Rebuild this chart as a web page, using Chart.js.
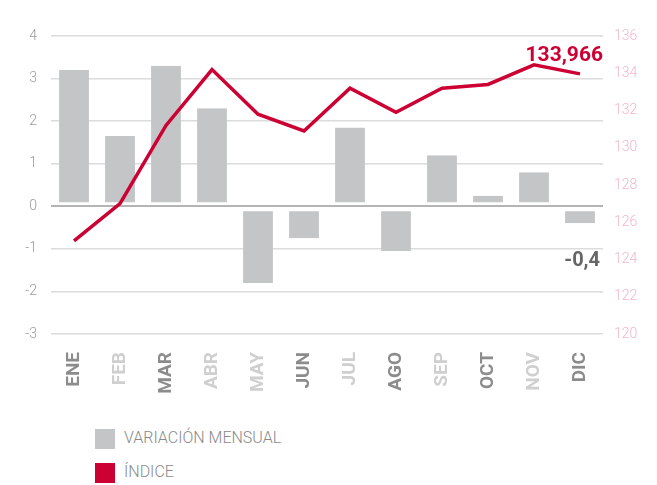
<!DOCTYPE html>
<html>
<head>
<meta charset="utf-8">
<script src="https://cdn.jsdelivr.net/npm/chart.js@4.4.0/dist/chart.umd.min.js"></script>
<style>
body { margin: 0; background: #fff; font-family: Roboto, sans-serif; }
#wrap { position: relative; width: 657px; height: 400px; }
.leg { position: absolute; left: 95px; font-size: 16px; font-weight: 300; color: #8a8a8a; }
.leg span { display: inline-block; width: 20px; height: 20px; vertical-align: middle; margin-right: 9px; }
</style>
</head>
<body>
<div id="wrap"><canvas id="chart"></canvas></div>
<div class="leg" style="top:428px"><span style="background:#c4c5c6"></span>VARIACIÓN MENSUAL</div>
<div class="leg" style="top:462px"><span style="background:#cc0033"></span>ÍNDICE</div>
<script>
const meses = ['ENE', 'FEB', 'MAR', 'ABR', 'MAY', 'JUN', 'JUL', 'AGO', 'SEP', 'OCT', 'NOV', 'DIC'];
const variacion = [3.2, 1.65, 3.3, 2.3, -1.8, -0.75, 1.85, -1.05, 1.2, 0.25, 0.8, -0.4];
const indice = [125.0, 127.0, 131.2, 134.2, 131.8, 130.9, 133.2, 131.9, 133.2, 133.4, 134.45, 133.966];
const leftTicks = [-3, -2, -1, 0, 1, 2, 3, 4];
const rightTicks = [120, 122, 124, 126, 128, 130, 132, 134, 136];
const mesColor = ['#8c8c8c', '#cfcfcf', '#8c8c8c', '#cfcfcf', '#cfcfcf', '#8c8c8c', '#cfcfcf', '#8c8c8c', '#cfcfcf', '#8c8c8c', '#cfcfcf', '#8c8c8c'];

const labelsPlugin = {
    id: 'labels',
    afterDatasetsDraw(chart) {
        const ctx = chart.ctx;
        const area = chart.chartArea;
        const lineMeta = chart.getDatasetMeta(0);
        const barMeta = chart.getDatasetMeta(1);
        ctx.save();
        ctx.textAlign = 'right';
        ctx.textBaseline = 'alphabetic';
        ctx.font = 'bold 21px Roboto';
        ctx.fillStyle = '#cc0033';
        const last = indice.length - 1;
        ctx.fillText(indice[last].toFixed(3).replace('.', ','), area.right, lineMeta.data[last - 1].y - 4);
        ctx.font = 'bold 20px Roboto';
        ctx.fillStyle = '#666666';
        const bar = barMeta.data[last];
        ctx.fillText(String(variacion[last]).replace('.', ','), area.right - 3, bar.y + 43);
        ctx.restore();
    }
};

new Chart(document.getElementById('chart').getContext('2d'), {
    type: 'bar',
    data: {
        labels: meses,
        datasets: [{
            type: 'line',
            data: indice,
            yAxisID: 'y1',
            borderColor: '#cc0033',
            borderWidth: 3.5,
            pointRadius: 0,
            tension: 0,
            order: 0
        }, {
            type: 'bar',
            data: variacion,
            yAxisID: 'y',
            backgroundColor: '#c4c5c6',
            borderColor: 'rgba(0,0,0,0)',
            borderSkipped: false,
            borderWidth: function(c) {
                const v = c.raw;
                return v < 0 ? {top: 4, bottom: 0, left: 0, right: 0} : {top: 0, bottom: 3, left: 0, right: 0};
            },
            barPercentage: 0.65,
            categoryPercentage: 1,
            order: 1
        }]
    },
    options: {
        responsive: true,
        maintainAspectRatio: false,
        animation: false,
        layout: { padding: { top: 36, left: 0, right: 0, bottom: 0 } },
        plugins: { legend: { display: false }, tooltip: { enabled: false } },
        scales: {
            x: {
                grid: { display: false },
                border: { display: false },
                afterFit: function(s) { s.height = 66; },
                ticks: {
                    minRotation: 90,
                    maxRotation: 90,
                    padding: 10,
                    color: function(c) { return mesColor[c.index]; },
                    font: { family: 'Roboto', size: 19, weight: 'bold' }
                }
            },
            y: {
                position: 'left',
                min: leftTicks[0],
                max: leftTicks[leftTicks.length - 1],
                afterFit: function(s) { s.width = 51; },
                afterBuildTicks: function(s) { s.ticks = leftTicks.map(v => ({value: v})); },
                border: { display: false },
                grid: {
                    drawTicks: false,
                    color: function(c) { return c.tick && c.tick.value === 0 ? '#b4b4b4' : '#dcdcdc'; },
                    lineWidth: function(c) { return c.tick && c.tick.value === 0 ? 2 : 1.5; }
                },
                ticks: {
                    padding: 14,
                    color: '#9a9a9a',
                    font: { family: 'Roboto', size: 14, weight: '300' }
                }
            },
            y1: {
                position: 'right',
                min: rightTicks[0],
                max: rightTicks[rightTicks.length - 1],
                afterFit: function(s) { s.width = 54; },
                afterBuildTicks: function(s) { s.ticks = rightTicks.map(v => ({value: v})); },
                border: { display: false },
                grid: { display: false, drawTicks: false },
                ticks: {
                    padding: 11,
                    color: '#f0b6c8',
                    font: { family: 'Roboto', size: 14, weight: '300' }
                }
            }
        }
    },
    plugins: [labelsPlugin]
});
</script>
</body>
</html>
